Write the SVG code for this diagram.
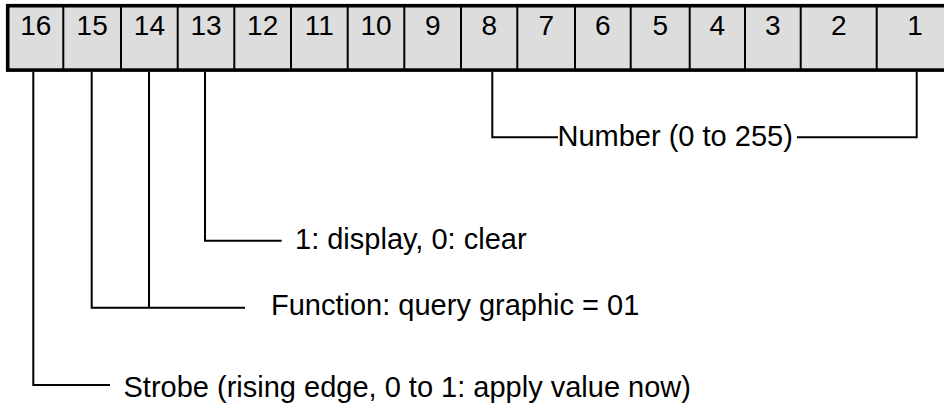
<svg xmlns="http://www.w3.org/2000/svg" width="944" height="408" viewBox="0 0 944 408">
<style>
.t{font-family:"Liberation Sans",Arial,sans-serif;fill:#000}
.d{font-size:28px;text-anchor:middle}
.l{font-size:29px}
.div{stroke:#000;stroke-width:2}
.c{fill:none;stroke:#000;stroke-width:2}
</style>
<rect width="944" height="408" fill="#fff"/>
<g id="register">
<rect x="7.7" y="5.7" width="950" height="64.4" fill="#dddddd" stroke="#000" stroke-width="3.6"/>
<g id="dividers">
<line class="div" x1="63.3" y1="7" x2="63.3" y2="69"/>
<line class="div" x1="121" y1="7" x2="121" y2="69"/>
<line class="div" x1="177.7" y1="7" x2="177.7" y2="69"/>
<line class="div" x1="234.3" y1="7" x2="234.3" y2="69"/>
<line class="div" x1="291" y1="7" x2="291" y2="69"/>
<line class="div" x1="347.7" y1="7" x2="347.7" y2="69"/>
<line class="div" x1="404.3" y1="7" x2="404.3" y2="69"/>
<line class="div" x1="461" y1="7" x2="461" y2="69"/>
<line class="div" x1="517.3" y1="7" x2="517.3" y2="69"/>
<line class="div" x1="575" y1="7" x2="575" y2="69"/>
<line class="div" x1="630.7" y1="7" x2="630.7" y2="69"/>
<line class="div" x1="689.7" y1="7" x2="689.7" y2="69"/>
<line class="div" x1="745" y1="7" x2="745" y2="69"/>
<line class="div" x1="800.7" y1="7" x2="800.7" y2="69"/>
<line class="div" x1="876.7" y1="7" x2="876.7" y2="69"/>
</g>
</g>
<g id="bit16"><text class="t d" x="35.8" y="35">16</text></g>
<g id="bit15"><text class="t d" x="92.2" y="35">15</text></g>
<g id="bit14"><text class="t d" x="149.4" y="35">14</text></g>
<g id="bit13"><text class="t d" x="206" y="35">13</text></g>
<g id="bit12"><text class="t d" x="262.7" y="35">12</text></g>
<g id="bit11"><text class="t d" x="319.3" y="35">11</text></g>
<g id="bit10"><text class="t d" x="376" y="35">10</text></g>
<g id="bit9"><text class="t d" x="432.7" y="35">9</text></g>
<g id="bit8"><text class="t d" x="489.2" y="35">8</text></g>
<g id="bit7"><text class="t d" x="546.2" y="35">7</text></g>
<g id="bit6"><text class="t d" x="602.8" y="35">6</text></g>
<g id="bit5"><text class="t d" x="660.2" y="35">5</text></g>
<g id="bit4"><text class="t d" x="717.4" y="35">4</text></g>
<g id="bit3"><text class="t d" x="772.9" y="35">3</text></g>
<g id="bit2"><text class="t d" x="838.7" y="35">2</text></g>
<g id="bit1"><text class="t d" x="915" y="35">1</text></g>
<g id="connectors">
<polyline class="c" points="492.3,72 492.3,137.3 558,137.3"/>
<polyline class="c" points="797,137.3 916.7,137.3 916.7,72"/>
<polyline class="c" points="205,72 205,240.7 281.7,240.7"/>
<polyline class="c" points="91.7,72 91.7,307.7 245,307.7"/>
<line class="c" x1="149" y1="72" x2="149" y2="307.7"/>
<polyline class="c" points="33.3,72 33.3,385 110,385"/>
</g>
<g id="label-number"><text class="t l" x="557.5" y="146">Number (0 to 255)</text></g>
<g id="label-display"><text class="t l" x="295" y="249">1: display, 0: clear</text></g>
<g id="label-function"><text class="t l" x="271" y="315">Function: query graphic = 01</text></g>
<g id="label-strobe"><text class="t l" x="123.5" y="397">Strobe (rising edge, 0 to 1: apply value now)</text></g>
</svg>
